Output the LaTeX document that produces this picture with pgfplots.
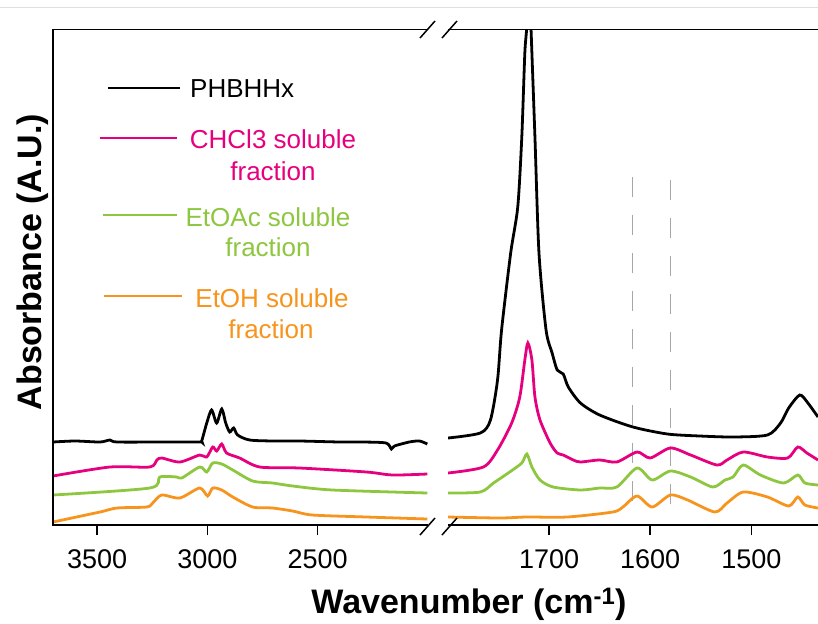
\documentclass[border=0pt]{standalone}
\usepackage{pgfplots}
\pgfplotsset{compat=1.18}
\usepackage{fontspec}
\setmainfont{Liberation Sans}
\definecolor{cpink}{RGB}{230,0,126}
\definecolor{cgreen}{RGB}{141,198,63}
\definecolor{corange}{RGB}{247,148,29}
\pgfplotsset{spec/.style={
  scale only axis, height=495bp, ymin=0, ymax=495, x dir=reverse,
  axis line style={draw=none}, ytick=\empty, xtick pos=bottom,
  tick align=outside, major tick length=10bp,
  tick style={black, line width=1.5pt},
  ticklabel style={font=\fontsize{27bp}{30bp}\selectfont},
  xticklabel style={yshift=-11bp},
  /pgf/number format/assume math mode=true,
  /pgf/number format/set thousands separator={},
  clip mode=individual, anchor=south west,
  every axis plot/.append style={line width=2.8pt, smooth, tension=0.45}}}
\begin{document}
\begin{tikzpicture}
\path[use as bounding box] (0,0) rectangle (818bp,-624bp);
\draw[gray!25, line width=0.8pt] (0,-7bp) -- (818bp,-7bp);
% left panel
\begin{axis}[spec, at={(53bp,-525bp)}, width=375bp, xmin=2000, xmax=3700, xtick={2500,3000,3500}]
\addplot[black] coordinates {(3700,83) (3600,84) (3487,83) (3442,85) (3410,83) (3200,83) (3035,83) (3026,84) (3003,102) (2981,115) (2958,102) (2935,116) (2917,102) (2899,93) (2881,97) (2863,90) (2809,85) (2700,84) (2582,84) (2400,83) (2300,83) (2190,82) (2166,76) (2152,79) (2085,83) (2039,84) (2003,81)};
\addplot[cpink] coordinates {(3700,49) (3442,58) (3261,58) (3229,65) (3207,67) (3125,63) (3035,70) (3003,68) (2976,78) (2958,74) (2935,81) (2913,72) (2854,67) (2763,58) (2582,57) (2279,53) (2162,50) (2003,51)};
\addplot[cgreen] coordinates {(3700,30) (3261,37) (3216,48) (3139,48) (3116,47) (3035,58) (3003,53) (2976,62) (2935,61) (2885,55) (2795,44) (2705,42) (2614,39) (2433,35) (2003,32)};
\addplot[corange] coordinates {(3700,3) (3487,13) (3410,17) (3275,18) (3248,22) (3207,30) (3125,27) (3035,37) (2999,29) (2976,37) (2935,35) (2885,28) (2795,18) (2705,17) (2614,14) (2524,10) (2279,8) (2003,6)};
\end{axis}
% right panel
\begin{axis}[spec, at={(448bp,-525bp)}, width=370bp, xmin=1434, xmax=1800, xtick={1500,1600,1700}]
\addplot[gray!70, line width=0.8pt, sharp plot, dash pattern=on 20bp off 18bp] coordinates {(1618,348) (1618,23)};
\addplot[gray!70, line width=0.8pt, sharp plot, dash pattern=on 20bp off 18bp] coordinates {(1580,345) (1580,18)};
\addplot[black] coordinates {(1800,87) (1768,92) (1758,105) (1751,145) (1747,195) (1738,272) (1731,318) (1727,388) (1724,472) (1722,500) (1720,560) (1718,500) (1714,388) (1710,272) (1703,195) (1697,172) (1692,155) (1686,151) (1681,138) (1669,122) (1650,110) (1617,98) (1583,91) (1551,89) (1518,88) (1484,90) (1471,102) (1463,117) (1452,130) (1444,122) (1434,108)};
\addplot[cpink] coordinates {(1800,52) (1765,58) (1751,75) (1737,102) (1729,128) (1724,165) (1721,182) (1717,165) (1714,128) (1709,105) (1699,82) (1692,72) (1686,70) (1676,65) (1669,63) (1650,65) (1633,63) (1613,73) (1600,67) (1580,77) (1560,70) (1534,60) (1524,65) (1508,73) (1484,68) (1464,67) (1454,78) (1445,72) (1434,65)};
\addplot[cgreen] coordinates {(1800,32) (1768,33) (1755,42) (1739,53) (1727,62) (1722,71) (1717,58) (1709,45) (1696,38) (1669,35) (1650,37) (1633,38) (1613,57) (1598,45) (1580,54) (1560,48) (1538,38) (1526,45) (1518,48) (1508,60) (1491,50) (1468,42) (1454,50) (1447,42) (1434,40)};
\addplot[corange] coordinates {(1800,8) (1749,7) (1722,8) (1682,8) (1637,13) (1627,18) (1613,29) (1598,18) (1580,30) (1563,25) (1536,13) (1524,22) (1508,33) (1484,28) (1463,19) (1454,28) (1447,20) (1434,17)};
\end{axis}
% spines
\draw[line width=1.8pt] (428bp,-29.5bp) -- (53bp,-29.5bp) -- (53bp,-525bp) -- (428bp,-525bp);
\draw[line width=1.8pt] (448bp,-29.5bp) -- (818bp,-29.5bp);
\draw[line width=1.8pt] (448bp,-525bp) -- (818bp,-525bp);
% break marks
\draw[line width=1.5pt] (420bp,-38bp) -- (435bp,-21bp);
\draw[line width=1.5pt] (442bp,-38bp) -- (457bp,-21bp);
\draw[line width=1.5pt] (420bp,-535bp) -- (435bp,-518bp);
\draw[line width=1.5pt] (442bp,-535bp) -- (457bp,-518bp);
% legend
\begin{scope}[every node/.style={inner sep=0pt, anchor=base, font=\fontsize{26bp}{30bp}\selectfont}]
\draw[black, line width=2.8pt] (108bp,-88bp) -- (180bp,-88bp);
\node[anchor=base west] at (190bp,-97bp) {PHBHHx};
\draw[cpink, line width=2.8pt] (100bp,-138bp) -- (177bp,-138bp);
\node[text=cpink] at (273bp,-148bp) {CHCl3 soluble};
\node[text=cpink] at (273bp,-180bp) {fraction};
\draw[cgreen, line width=2.8pt] (103bp,-215bp) -- (177bp,-215bp);
\node[text=cgreen] at (268bp,-226bp) {EtOAc soluble};
\node[text=cgreen] at (268bp,-256bp) {fraction};
\draw[corange, line width=2.8pt] (104bp,-296bp) -- (182bp,-296bp);
\node[text=corange] at (272bp,-307bp) {EtOH soluble};
\node[text=corange] at (271bp,-338bp) {fraction};
\end{scope}
% axis labels
\node[anchor=base, inner sep=0pt, font=\fontsize{34bp}{40bp}\selectfont\bfseries] at (469bp,-613bp) {Wavenumber (cm\textsuperscript{-1})};
\node[rotate=90, anchor=base, inner sep=0pt, font=\fontsize{34bp}{40bp}\selectfont\bfseries] at (41bp,-262bp) {Absorbance (A.U.)};
\end{tikzpicture}
\end{document}
